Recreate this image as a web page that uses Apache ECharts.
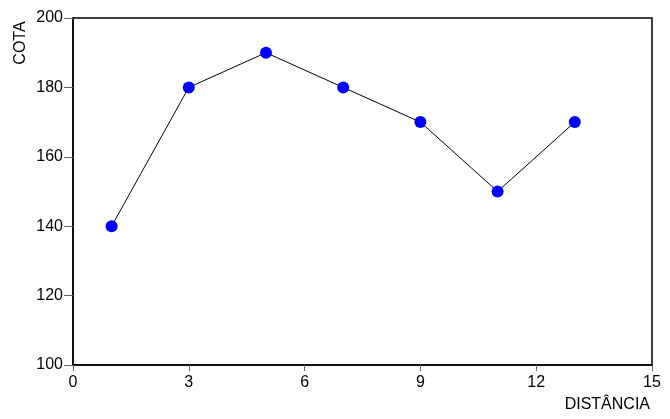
<!DOCTYPE html>
<html><head><meta charset="utf-8">
<script src="https://cdn.jsdelivr.net/npm/echarts@6/dist/echarts.min.js"></script>
<style>html,body{margin:0;padding:0;background:#fff}#c{width:670px;height:419px}</style>
</head><body><div id="c"></div>
<script>
const distancia = [1, 3, 5, 7, 9, 11, 13];
const cota = [140, 180, 190, 180, 170, 150, 170];
const xTicks = [0, 3, 6, 9, 12, 15];
const yTicks = [100, 120, 140, 160, 180, 200];

const chart = echarts.init(document.getElementById('c'));
const font = 'Liberation Sans, Arial, sans-serif';
chart.setOption({
  animation: false,
  backgroundColor: '#fff',
  grid: {left: 73, right: 18, top: 18, bottom: 54, containLabel: false, outerBoundsMode: 'none', show: true, borderColor: '#000', borderWidth: 1.5, backgroundColor: 'transparent'},
  xAxis: {
    type: 'value', min: xTicks[0], max: xTicks[xTicks.length-1], interval: 3,
    name: 'DISTÂNCIA', nameLocation: 'end', nameGap: 0,
    nameTextStyle: {fontFamily: font, fontSize: 16, color: '#000', align: 'right', verticalAlign: 'top', padding: [32, 2, 0, 0]},
    axisLine: {lineStyle: {color: '#000', width: 1.5}},
    axisTick: {show: true, length: 6, lineStyle: {color: '#666'}},
    axisLabel: {fontFamily: font, fontSize: 16, color: '#000', margin: 10},
    splitLine: {show: false}
  },
  yAxis: {
    type: 'value', min: yTicks[0], max: yTicks[yTicks.length-1], interval: 20,
    name: 'COTA', nameLocation: 'end', nameRotate: 90, nameGap: -25,
    nameTextStyle: {fontFamily: font, fontSize: 16, color: '#000', align: 'center', verticalAlign: 'bottom', padding: [0, 0, 44, 0]},
    axisLine: {lineStyle: {color: '#000', width: 1.5}},
    axisTick: {show: true, length: 9, lineStyle: {color: '#666'}},
    axisLabel: {fontFamily: font, fontSize: 16, color: '#000', margin: 10},
    splitLine: {show: false}
  },
  series: [{
    type: 'line',
    data: distancia.map((d, i) => [d, cota[i]]),
    symbol: 'circle', symbolSize: 12,
    itemStyle: {color: '#0000ff'},
    lineStyle: {color: '#000', width: 1}
  }]
});
</script></body></html>
